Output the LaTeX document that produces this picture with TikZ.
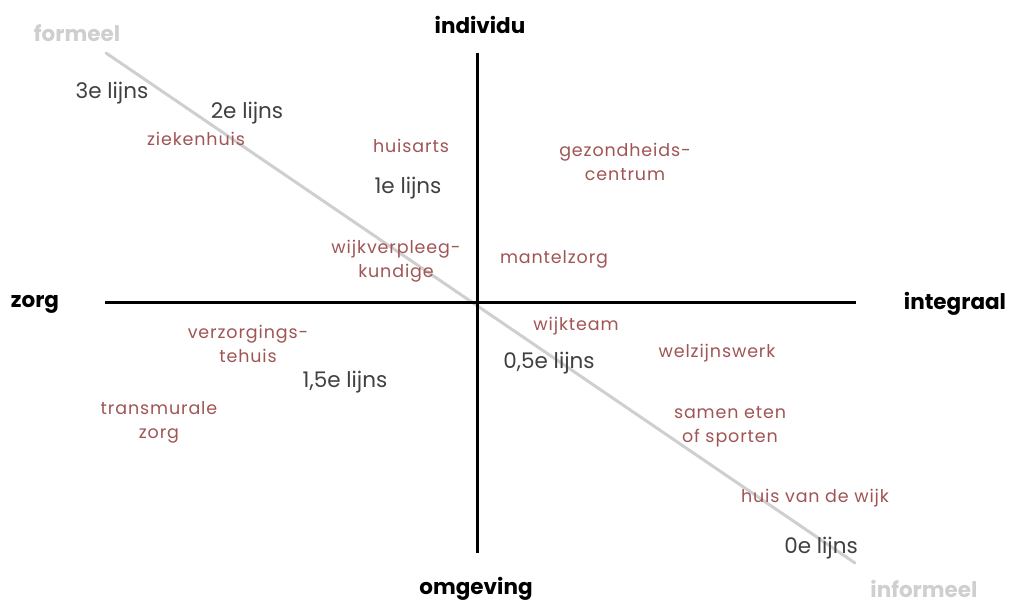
\documentclass[tikz,border=0pt]{standalone}
\usepackage{fontspec}
\setmainfont{Poppins}
\newfontfamily\redfont[LetterSpace=5]{Poppins}
\definecolor{itemred}{HTML}{A05555}
\definecolor{lijngray}{HTML}{404040}
\definecolor{axisgray}{HTML}{CFCFCF}
\tikzset{
  axislabel/.style={font=\fontsize{21.5}{24}\selectfont\bfseries, text=black, inner sep=0pt},
  graylabel/.style={font=\fontsize{21.5}{24}\selectfont\bfseries, text=axisgray, inner sep=0pt},
  lijn/.style={font=\fontsize{21.5}{24}\selectfont, text=lijngray, inner sep=0pt, yshift=-2pt},
  item/.style={font=\redfont\fontsize{17.5}{24}\selectfont, text=itemred, align=center, inner sep=0pt, yshift=-1.5pt},
}
\begin{document}
\begin{tikzpicture}[x=1pt,y=-1pt]
\useasboundingbox (0,0) rectangle (1010,602);
% axes and diagonal
\coordinate (dA) at (106,53);
\coordinate (dB) at (855,563);
\coordinate (vT) at (477,53);
\coordinate (vB) at (477,553);
\coordinate (hL) at (105,302);
\coordinate (hR) at (856,302);
\draw[axisgray, line width=3pt, line cap=round] (dA) -- (dB);
\draw[black, line width=3pt] (vT) -- (vB);
\draw[black, line width=3pt] (hL) -- (hR);
% axis labels
\node[axislabel] (individu) at (480,25) {individu};
\node[axislabel] (zorg) at (35,304) {zorg};
\node[axislabel] (integraal) at (955,304) {integraal};
\node[axislabel] (omgeving) at (476,589) {omgeving};
\node[graylabel] (formeel) at (77,33) {formeel};
\node[graylabel] (informeel) at (924,589) {informeel};
% lijns
\node[lijn] (l3) at (112,91) {3e lijns};
\node[lijn] (l2) at (247,111) {2e lijns};
\node[lijn] (l1) at (408,186) {1e lijns};
\node[lijn] (l15) at (345,380) {1,5e lijns};
\node[lijn] (l05) at (549,361) {0,5e lijns};
\node[lijn] (l0) at (821,546) {0e lijns};
% items
\node[item] (ziekenhuis) at (196,137) {ziekenhuis};
\node[item] (huisarts) at (411,144) {huisarts};
\node[item] (gezond) at (625,160) {gezondheids-\\centrum};
\node[item] (wijkverpleeg) at (396,260) {wijkverpleeg-\\kundige};
\node[item] (mantelzorg) at (554,258) {mantelzorg};
\node[item] (verzorg) at (248,342) {verzorgings-\\tehuis};
\node[item] (transmurale) at (159,421) {transmurale\\zorg};
\node[item] (wijkteam) at (576,325) {wijkteam};
\node[item] (welzijn) at (717,352) {welzijnswerk};
\node[item] (samen) at (730,425) {samen eten\\of sporten};
\node[item] (huis) at (815,497) {huis van de wijk};
\end{tikzpicture}
\end{document}
